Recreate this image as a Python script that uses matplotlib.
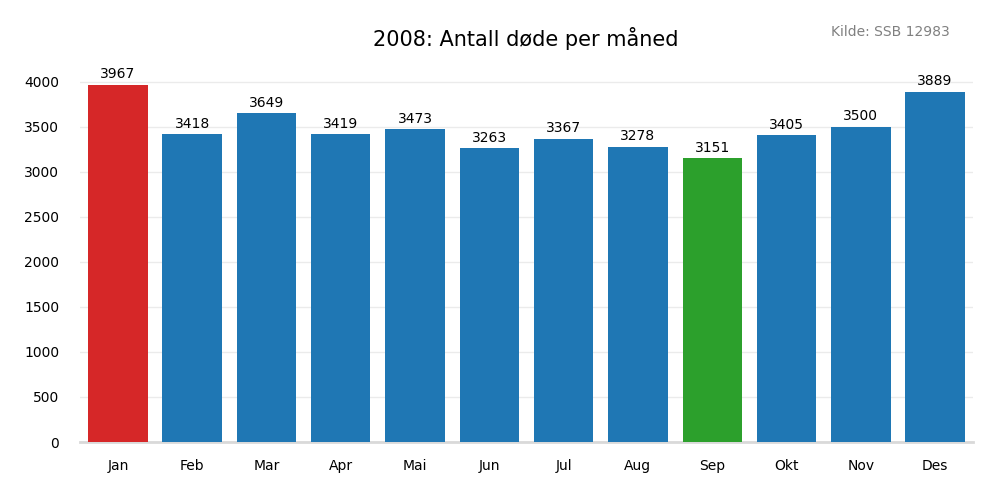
import matplotlib
matplotlib.use("Agg")
import matplotlib.pyplot as plt

months = ["Jan","Feb","Mar","Apr","Mai","Jun","Jul","Aug","Sep","Okt","Nov","Des"]
deaths = [3967,3418,3649,3419,3473,3263,3367,3278,3151,3405,3500,3889]
colors = ["#d62728"] + ["#1f77b4"]*7 + ["#2ca02c"] + ["#1f77b4"]*3

fig = plt.figure(figsize=(10,5), dpi=100)
ax = fig.add_axes([0.08, 0.116, 0.893, 0.75])
x = range(len(months))
bars = ax.bar(x, deaths, width=0.8, color=colors, zorder=3)
for xi, v in zip(x, deaths):
    ax.text(xi, v + 40, str(v), ha="center", va="bottom", fontsize=10)
ax.set_xticks(list(x))
ax.set_xticklabels(months, fontsize=10)
ax.set_yticks(range(0, 4001, 500))
ax.tick_params(axis="y", labelsize=10, length=0, pad=15)
ax.tick_params(axis="x", length=0, pad=12)
ax.set_xlim(-0.51, 11.51)
ax.set_ylim(0, 4165)
ax.grid(axis="y", color="#ebebeb", linewidth=1, zorder=0)
for s in ["top","right","left"]:
    ax.spines[s].set_visible(False)
ax.spines["bottom"].set_color("#d9d9d9")
ax.spines["bottom"].set_linewidth(2)
fig.text(0.526, 0.922, "2008: Antall døde per måned", ha="center", va="center", fontsize=15)
fig.text(0.95, 0.935, "Kilde: SSB 12983", ha="right", va="center", fontsize=10, color="gray")
fig.savefig("out.png", dpi=100)
